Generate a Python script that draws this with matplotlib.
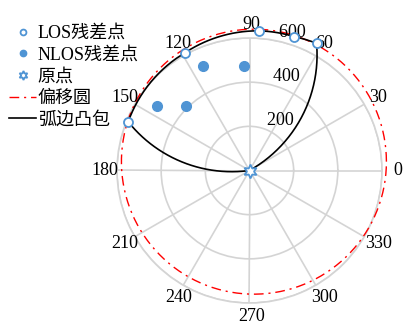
import numpy as np
import matplotlib
matplotlib.use('Agg')
import matplotlib.pyplot as plt
from matplotlib.transforms import offset_copy

plt.rcParams['font.family'] = ['Liberation Serif', 'Noto Sans CJK SC']
plt.rcParams['font.size'] = 13

# LOS residual points (angle in deg, range)
los_theta = [86.0, 71.5, 62.2, 118.7, 158.1]
los_r = [634, 639, 651, 608, 592]
# NLOS residual points
nlos_theta = [113.8, 93.0, 145.2, 134.7]
nlos_r = [519, 476, 511, 412]

# offset circle (centre x, y and radius) and arc radius of the hull
circ_x0, circ_y0 = 20, 40
circ_R = 600
arc_R = 600

r_ticks = [200, 400, 600]
theta_ticks = list(range(0, 360, 30))
labels = ['LOS残差点', 'NLOS残差点', '原点', '偏移圆', '弧边凸包']

blue = '#4f94d4'
gridc = '#d4d4d4'


def arc_pts(a, b, R, n=80):
    # arc of radius R from a to b, bulging to the right side of a->b
    a = np.asarray(a, float)
    b = np.asarray(b, float)
    m = (a + b) / 2
    e = b - a
    h = np.hypot(e[0], e[1]) / 2
    e = e / (2 * h)
    inward = np.array([-e[1], e[0]])
    d = np.sqrt(max(R**2 - h**2, 0))
    c = m + inward * d
    t0 = np.arctan2(a[1] - c[1], a[0] - c[0])
    t1 = np.arctan2(b[1] - c[1], b[0] - c[0])
    dt = (t1 - t0 + np.pi) % (2 * np.pi) - np.pi
    t = t0 + np.linspace(0, dt, n)
    return c[0] + R * np.cos(t), c[1] + R * np.sin(t)


def to_polar(x, y):
    return np.arctan2(y, x), np.hypot(x, y)


fig = plt.figure(figsize=(4.03, 3.24), dpi=100)
ax = fig.add_axes([117 / 403, 21 / 324, 265 / 403, 265 / 324], projection='polar')
ax.set_ylim(0, 600)
ax.set_rticks(r_ticks)
ax.set_xticks(np.deg2rad(theta_ticks))
ax.set_xticklabels([])
ax.set_yticklabels([])
ax.grid(True, color=gridc, linewidth=1.2, linestyle='-')
ax.spines['polar'].set_color(gridc)
ax.spines['polar'].set_linewidth(1.2)
ax.tick_params(length=0)

# data
th_los = np.deg2rad(los_theta)
th_nlos = np.deg2rad(nlos_theta)
l1, = ax.plot(th_los, los_r, 'o', mfc='white', mec=blue, mew=1.3, ms=6.5,
              clip_on=False, zorder=5)
l2, = ax.plot(th_nlos, nlos_r, 'o', color=blue, ms=7, clip_on=False, zorder=5)
l3, = ax.plot([0], [0], marker=(6, 1, 0), mfc='white', mec=blue, mew=1.3, ms=10,
              linestyle='none', clip_on=False, zorder=6)

# offset circle
t = np.linspace(0, 2 * np.pi, 400)
cx = circ_x0 + circ_R * np.cos(t)
cy = circ_y0 + circ_R * np.sin(t)
ct, cr = to_polar(cx, cy)
l4, = ax.plot(ct, cr, color='red', linestyle=(0, (7, 3.5, 1.5, 3.5)),
              linewidth=1.0, clip_on=False, zorder=3)

# arc-edge hull: origin -> LOS points in angular order -> origin
order = np.argsort(los_theta)
xs = [0.0] + [los_r[i] * np.cos(th_los[i]) for i in order] + [0.0]
ys = [0.0] + [los_r[i] * np.sin(th_los[i]) for i in order] + [0.0]
hx, hy = [], []
for i in range(len(xs) - 1):
    ax_, ay_ = arc_pts((xs[i], ys[i]), (xs[i + 1], ys[i + 1]), arc_R)
    hx.extend(ax_)
    hy.extend(ay_)
ht, hr = to_polar(np.array(hx), np.array(hy))
l5, = ax.plot(ht, hr, color='black', linewidth=1.2, clip_on=False, zorder=4)

# tick labels, placed like the MATLAB polar()
off = offset_copy(ax.transData, fig=fig, x=2, y=0, units='dots')
for a in theta_ticks:
    ax.text(np.deg2rad(a), 662, str(a), ha='center', va='center',
            transform=off, clip_on=False)
for r in r_ticks:
    ax.text(np.deg2rad(82), r + 10, '  ' + str(r), ha='left', va='baseline',
            transform=off, clip_on=False)

leg = fig.legend([l1, l2, l3, l4, l5], labels, loc='upper left',
                 bbox_to_anchor=(9 / 403, 1 - 25 / 324), frameon=False,
                 borderpad=0, borderaxespad=0, handlelength=1.5,
                 handletextpad=0.1, labelspacing=0.26, markerscale=0.65)

fig.savefig('out.png', dpi=100)
